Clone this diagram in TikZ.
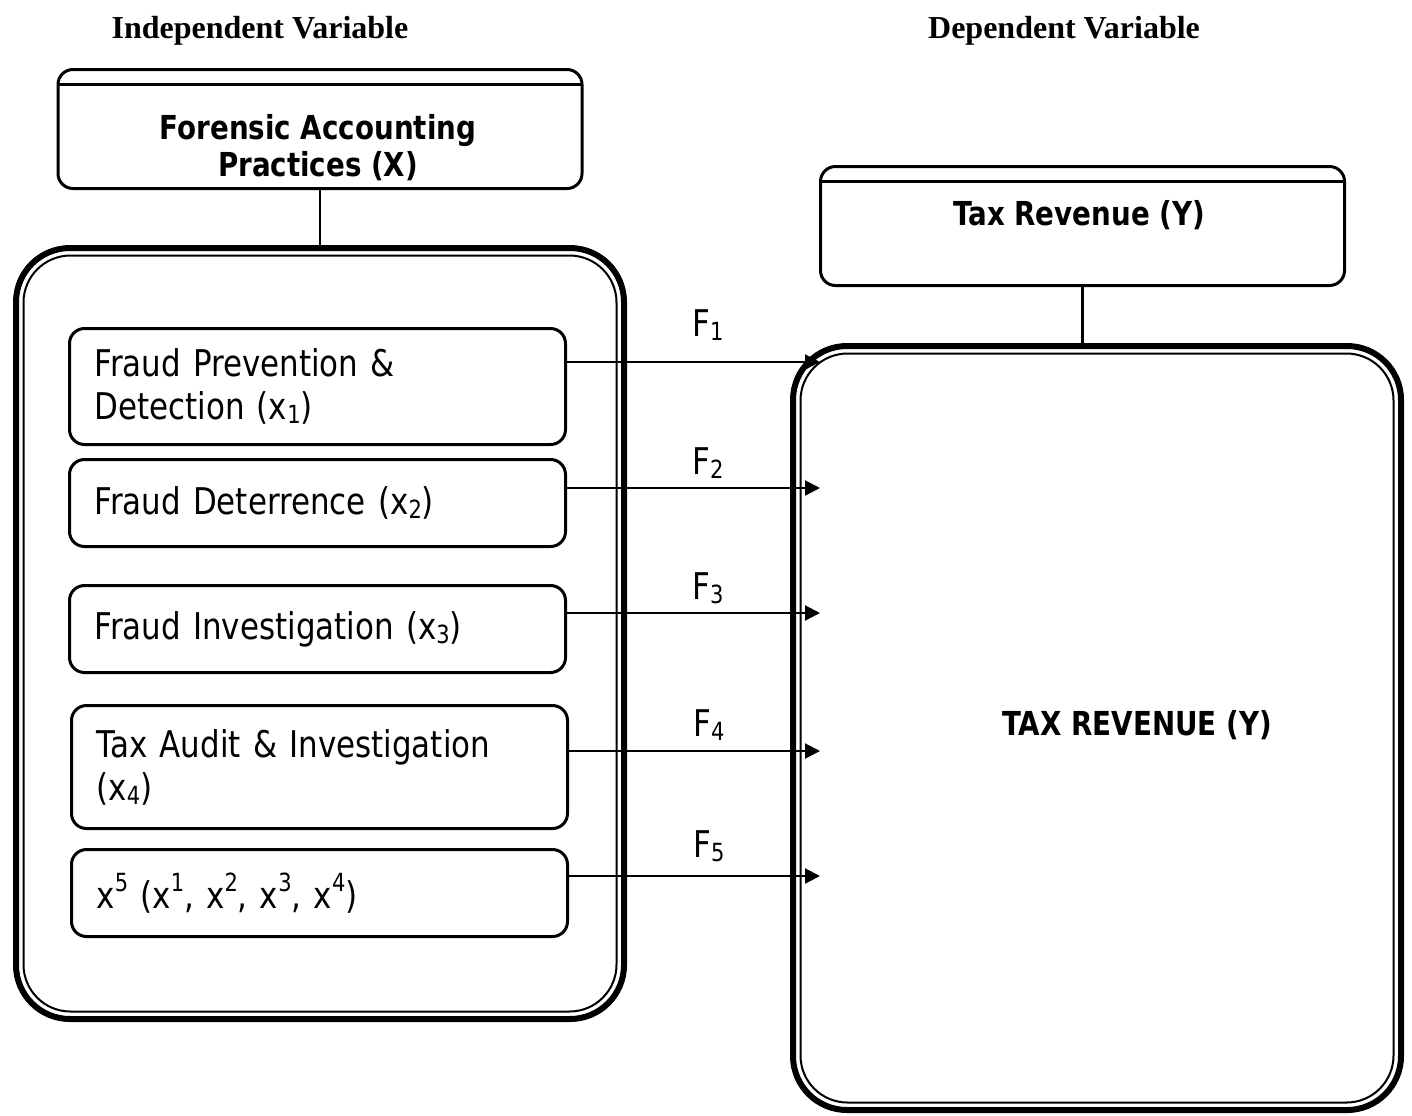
\documentclass[tikz,border=0pt]{standalone}
\usepackage{fontspec}
\setmainfont{DejaVu Sans}[FakeStretch=0.84]
\newfontfamily\headfont{Liberation Serif}
\usepackage{tikz}
\usetikzlibrary{arrows.meta,calc}
\newcommand\subdig[1]{\raisebox{-0.12em}{\fontsize{12.5}{12.5}\selectfont #1}}
\newcommand\supdig[1]{\raisebox{0.45em}{\fontsize{12.5}{12.5}\selectfont #1}}

\begin{document}
\begin{tikzpicture}[x=0.5pt,y=-0.5pt,
  item/.style={draw,line width=1.5pt,rounded corners=7.5pt,outer sep=0pt,minimum width=248pt,text width=223pt,inner xsep=12.5pt,align=left,font=\fontsize{18.4}{21.5}\selectfont},
  hbox/.style={draw,line width=1.5pt,rounded corners=7.5pt,outer sep=0pt,minimum width=262pt,minimum height=59.5pt},
  bigbox/.style={draw,line width=3pt,rounded corners=27pt,outer sep=0pt,minimum width=304pt},
  flow/.style={-{Triangle[length=7.5pt,width=7.5pt]},line width=1.1pt},
  flab/.style={font=\fontsize{18.4}{21}\selectfont,inner sep=2pt},
  bold/.style={font=\bfseries\fontsize{16.5}{18.5}\selectfont,align=center},
  head/.style={font=\headfont\bfseries\fontsize{16}{18}\selectfont}]

  \useasboundingbox (0,0) rectangle (1412,1115);

  \node[head] (iv) at (260,31) {Independent Variable};
  \node[head] (dv) at (1064,31) {Dependent Variable};

  % left side
  \node[hbox] (fap) at (320,129) {};
  \draw[line width=1.5pt] ([yshift=-7.25pt]fap.north west) -- ([yshift=-7.25pt]fap.north east);
  \node[bold] (faptxt) at (318,148) {Forensic Accounting\\Practices (X)};

  \node[bigbox,minimum height=385.5pt] (lbox) at (320,633.5) {};
  \draw[line width=1pt,rounded corners=23.5pt] ($(lbox.north west)+(7.5,7.5)$) rectangle ($(lbox.south east)-(7.5,7.5)$);
  \draw[line width=1.25pt] (fap.south) -- (lbox.north);

  \node[item,minimum height=58pt] (b1) at (317.5,386.5) {Fraud Prevention \&\\Detection (x\subdig{1})};
  \node[item,minimum height=43.5pt] (b2) at (317.5,503) {Fraud Deterrence (x\subdig{2})};
  \node[item,minimum height=43.5pt] (b3) at (317.5,629) {Fraud Investigation (x\subdig{3})};
  \node[item,minimum height=61.5pt] (b4) at (319.5,767) {Tax Audit \& Investigation\\(x\subdig{4})};
  \node[item,minimum height=43.5pt] (b5) at (319.5,893) {x\supdig{5} (x\supdig{1}, x\supdig{2}, x\supdig{3}, x\supdig{4})};

  % right side
  \node[hbox] (hdr) at (1082.5,226) {};
  \draw[line width=1.5pt] ([yshift=-7.25pt]hdr.north west) -- ([yshift=-7.25pt]hdr.north east);
  \node[bold] (hdrtxt) at (1079,215) {Tax Revenue (Y)};

  \node[bigbox,minimum height=382pt] (rbox) at (1097,728) {};
  \draw[line width=1pt,rounded corners=23.5pt] ($(rbox.north west)+(7.5,7.5)$) rectangle ($(rbox.south east)-(7.5,7.5)$);
  \draw[line width=1.25pt] (hdr.south) -- (hdr.south |- rbox.north);
  \node[bold] (rtxt) at (1137,725) {TAX REVENUE (Y)};

  % arrows
  \coordinate (tip) at ([xshift=13.5pt]rbox.west);
  \foreach \i/\dy/\ly in {1/12.25/8,2/7.5/2,3/8/2,4/8/2.5,5/8.5/4.5}{
    \coordinate (s\i) at ([yshift=\dy pt]b\i.east);
    \draw[flow] (s\i) -- (s\i -| tip) node[flab,pos=0.56,above=\ly pt] {F\subdig{\i}};
  }
\end{tikzpicture}
\end{document}
